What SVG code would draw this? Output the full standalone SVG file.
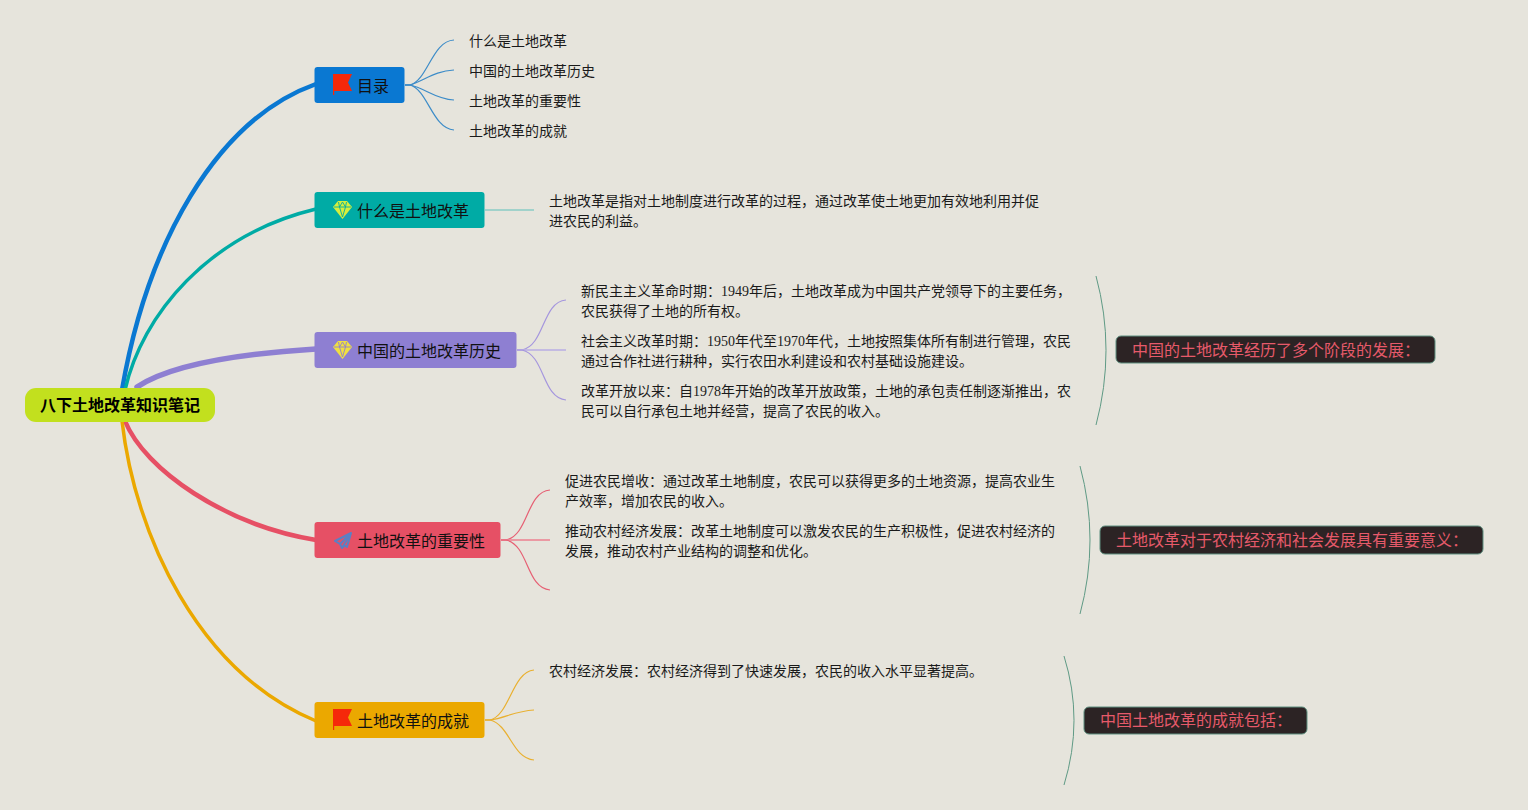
<svg xmlns="http://www.w3.org/2000/svg" width="1528" height="810" viewBox="0 0 1528 810">
<style>
text{font-family:"Liberation Serif","Noto Sans CJK SC",sans-serif;fill:#1a1a1a}
.b{font-size:14px}
.t{font-size:16px;fill:#111}
.r{font-size:16px;font-weight:700;fill:#000;font-family:"Noto Sans CJK SC",sans-serif}
.s{font-size:16px;fill:#e65a6a}
.m{fill:none;stroke-linecap:round}
.c{fill:none;stroke-width:1.200}
.sr{fill:#2c2324;stroke:#5f9080;stroke-width:1}
.br{fill:none;stroke:#5f9a85;stroke-width:1}
.fl{fill:#f5280a}
</style>
<defs>
<g id="flag"><path class="fl" d="M0 0H19L15 8.500 19 17H1.200V21H0Z"/></g>
<g id="gem"><path d="M5 0H14L19 6 9.500 18 0 6Z" stroke="none"/><path d="M1 6H18M5.500 1 6.500 6 9.500 16 12.500 6 13.500 1M6.500 6 9.500 1 12.500 6" fill="none" stroke-width=".9"/></g>
</defs>
<rect width="1528" height="810" fill="#e6e4dc"/>
<g id="connectors">
<path class="m" stroke="#0a78d2" stroke-width="4.500" d="M122 390C147 245 215 120 316 84"/>
<path class="m" stroke="#00aba5" stroke-width="3.500" d="M125 390C142 315 208 235 316 209"/>
<path class="m" stroke="#8e7fd2" stroke-width="5.500" d="M137 387C170 365 235 354 316 349"/>
<path class="m" stroke="#e65065" stroke-width="4.500" d="M125 421C145 470 225 525 316 540"/>
<path class="m" stroke="#eba800" stroke-width="3.500" d="M122 421C135 535 198 672 316 721"/>
<g class="c" stroke="#3d8cc8">
<path d="M405 85H410C428 80 432 41 454 40"/><path d="M405 85H410C425 80 435 71 454 70"/><path d="M405 85H410C425 88 435 99 454 100"/><path d="M405 85H410C428 90 432 128 454 130"/>
</g>
<path class="c" stroke="#5cc0ba" d="M485 210H534"/>
<g class="c" stroke="#a596de">
<path d="M517 350H522C545 345 542 302 566 300"/><path d="M517 350H566" stroke="#b8aee4" stroke-width="1.500"/><path d="M517 350H522C545 355 542 398 566 400"/>
</g>
<g class="c" stroke="#e65f73">
<path d="M501 540H506C529 535 526 492 550 490"/><path d="M501 540H550" stroke="#ec8090" stroke-width="1.500"/><path d="M501 540H506C529 545 526 588 550 590"/>
</g>
<g class="c" stroke="#e9b030">
<path d="M485 720H490C510 715 512 672 534 670"/><path d="M485 720H490C505 718 515 711 534 710"/><path d="M485 720H490C510 725 512 758 534 760"/>
</g>
<path class="br" d="M1096 276Q1116 350 1096 425"/>
<path class="br" d="M1080 466Q1100 540 1080 614"/>
<path class="br" d="M1064 656Q1084 720 1064 785"/>
</g>
<g id="root"><rect x="25" y="388" width="190" height="34" rx="11" fill="#c2e01e"/><text class="r" x="40" y="411">八下土地改革知识笔记</text></g>
<g id="n1"><rect x="314.500" y="67" width="90" height="36" rx="3" fill="#0a78d2"/><use href="#flag" x="333" y="74"/><text class="t" x="357" y="92">目录</text></g>
<g id="n1a"><text class="b" x="469" y="46">什么是土地改革</text></g>
<g id="n1b"><text class="b" x="469" y="76">中国的土地改革历史</text></g>
<g id="n1c"><text class="b" x="469" y="106">土地改革的重要性</text></g>
<g id="n1d"><text class="b" x="469" y="136">土地改革的成就</text></g>
<g id="n2"><rect x="314.500" y="192" width="170" height="36" rx="3" fill="#00aba5"/><use href="#gem" x="333" y="201" fill="#d6ee3c" stroke="#00aba5"/><text class="t" x="357" y="217">什么是土地改革</text></g>
<g id="n2a"><text class="b" x="549" y="206">土地改革是指对土地制度进行改革的过程，通过改革使土地更加有效地利用并促</text><text class="b" x="549" y="226">进农民的利益。</text></g>
<g id="n3"><rect x="314.500" y="332" width="202" height="36" rx="3" fill="#8e7fd2"/><use href="#gem" x="333" y="341" fill="#f0e040" stroke="#8e7fd2"/><text class="t" x="357" y="357">中国的土地改革历史</text></g>
<g id="n3a"><text class="b" x="581" y="296">新民主主义革命时期：1949年后，土地改革成为中国共产党领导下的主要任务，</text><text class="b" x="581" y="316">农民获得了土地的所有权。</text></g>
<g id="n3b"><text class="b" x="581" y="346">社会主义改革时期：1950年代至1970年代，土地按照集体所有制进行管理，农民</text><text class="b" x="581" y="366">通过合作社进行耕种，实行农田水利建设和农村基础设施建设。</text></g>
<g id="n3c"><text class="b" x="581" y="396">改革开放以来：自1978年开始的改革开放政策，土地的承包责任制逐渐推出，农</text><text class="b" x="581" y="416">民可以自行承包土地并经营，提高了农民的收入。</text></g>
<g id="n3s"><rect class="sr" x="1116" y="336" width="319" height="27" rx="5"/><text class="s" x="1132" y="356">中国的土地改革经历了多个阶段的发展：</text></g>
<g id="n4"><rect x="314.500" y="522" width="186" height="36" rx="3" fill="#e65065"/><path d="M351 533 335 541 340 544 342 548 344.500 545.500 347 547ZM340 544 351 533 342 548" fill="none" stroke="#5a80c4" stroke-width="2" stroke-linejoin="round"/><text class="t" x="357" y="547">土地改革的重要性</text></g>
<g id="n4a"><text class="b" x="565" y="486">促进农民增收：通过改革土地制度，农民可以获得更多的土地资源，提高农业生</text><text class="b" x="565" y="506">产效率，增加农民的收入。</text></g>
<g id="n4b"><text class="b" x="565" y="536">推动农村经济发展：改革土地制度可以激发农民的生产积极性，促进农村经济的</text><text class="b" x="565" y="556">发展，推动农村产业结构的调整和优化。</text></g>
<g id="n4s"><rect class="sr" x="1100" y="526" width="383" height="28" rx="5"/><text class="s" x="1116" y="546">土地改革对于农村经济和社会发展具有重要意义：</text></g>
<g id="n5"><rect x="314.500" y="702" width="170" height="36" rx="3" fill="#eba800"/><use href="#flag" x="333" y="709"/><text class="t" x="357" y="727">土地改革的成就</text></g>
<g id="n5a"><text class="b" x="549" y="676">农村经济发展：农村经济得到了快速发展，农民的收入水平显著提高。</text></g>
<g id="n5s"><rect class="sr" x="1084" y="707" width="223" height="27" rx="5"/><text class="s" x="1100" y="726">中国土地改革的成就包括：</text></g>
</svg>
